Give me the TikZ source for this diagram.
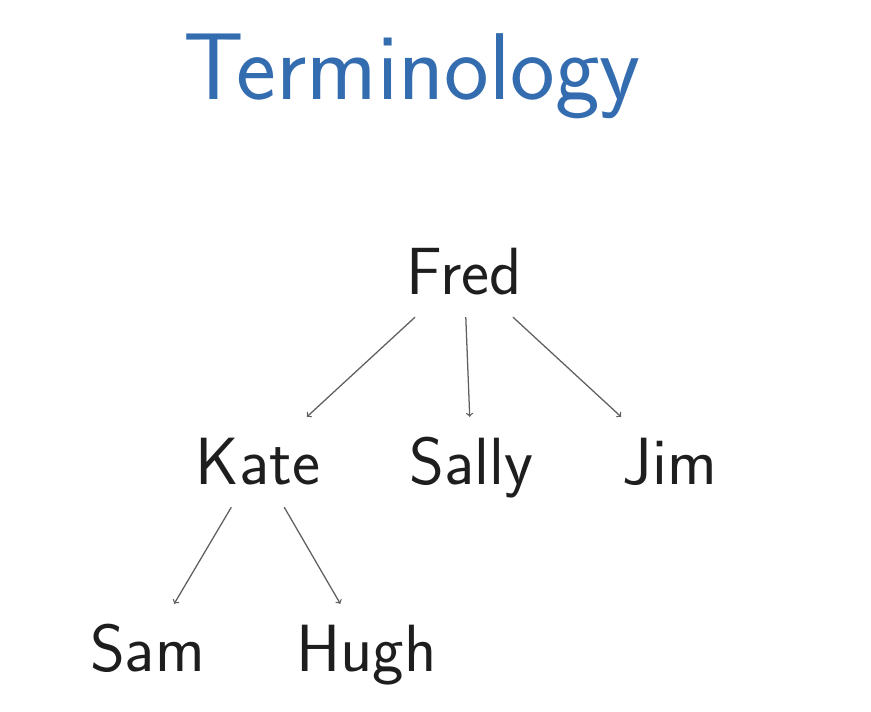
\documentclass[tikz,border=0pt]{standalone}
\usepackage{tikz}
\renewcommand{\familydefault}{\sfdefault}
\definecolor{titleblue}{RGB}{52,108,176}
\definecolor{edgegray}{RGB}{95,95,95}
\definecolor{namegray}{RGB}{30,30,30}
\begin{document}
\begin{tikzpicture}[
    person/.style={font=\fontsize{47.5}{52}\selectfont, text=namegray,
      text height=46pt*0.025/0.0352778, text depth=0pt, inner sep=0.55cm},
    link/.style={->, edgegray, line width=0.9pt}]
    \useasboundingbox (0, 0) rectangle (21.775, 17.775);

    \node[anchor=base, text=titleblue, font=\fontsize{67.5}{72}\selectfont]
      (title) at (10.3, 15.275) {Terminology};

    \node[person] (fred) at (11.6, 10.975) {Fred};
    \node[person] (kate) at (6.45, 6.225) {Kate};
    \node[person] (sally) at (11.7875, 6.225) {Sally};
    \node[person] (jim) at (16.75, 6.225) {Jim};
    \node[person] (sam) at (3.6875, 1.55) {Sam};
    \node[person] (hugh) at (9.1625, 1.55) {Hugh};

    \draw[link] (fred) -- (kate);
    \draw[link] (fred) -- (sally);
    \draw[link] (fred) -- (jim);
    \draw[link] (kate) -- (sam);
    \draw[link] (kate) -- (hugh);
  \end{tikzpicture}
\end{document}
